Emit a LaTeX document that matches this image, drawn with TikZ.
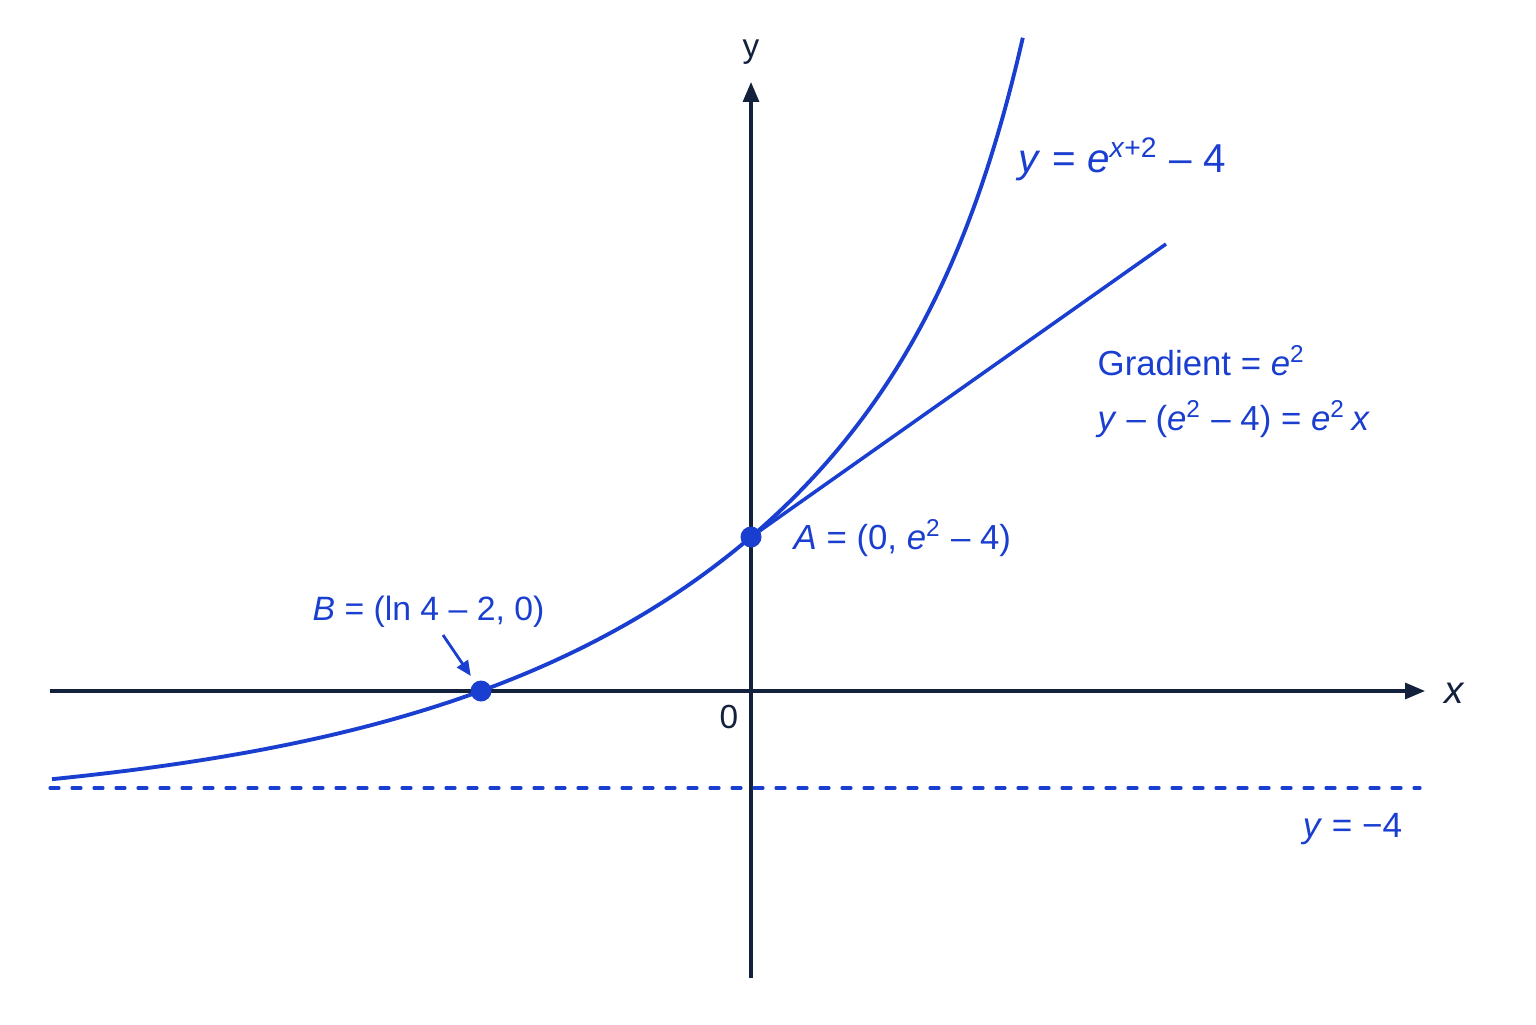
\documentclass[tikz,border=0pt]{standalone}
\usepackage{fontspec}
\setmainfont{Liberation Sans}
\usetikzlibrary{arrows.meta,positioning}
\definecolor{azul}{HTML}{1A3FD0}
\definecolor{eixo}{HTML}{14213D}
\newcommand{\vi}[1]{\textit{#1}}

\begin{document}
\begin{tikzpicture}[>={Triangle[length=0.2cm,width=0.16cm]},
	eixos/.style={draw=eixo, line width=0.9pt},
	curva/.style={draw=azul, line width=1.1pt},
	rotulo/.style={text=azul, inner sep=0pt, font=\fontsize{9.9}{11}\selectfont},
	ponto/.style={circle, fill=azul, inner sep=0pt, minimum size=0.21cm}]
\useasboundingbox[fill=white] (0,0) rectangle (15.36,10.24); %Área do desenho
	%Pontos
\coordinate (O) at (7.51,3.33); %Origem
\coordinate (A) at (7.51,4.87); %Ponto A
\coordinate (B) at (4.81,3.33); %Ponto B
\coordinate (xmin) at (0.5,3.33); \coordinate (xmax) at (14.25,3.33);
\coordinate (ymin) at (7.51,0.46); \coordinate (ymax) at (7.51,9.42);
	%Eixos
\draw[eixos,->] (xmin) -- (xmax); %Eixo x
\draw[eixos,->] (ymin) -- (ymax); %Eixo y
\node[text=eixo, inner sep=0pt, font=\fontsize{11}{13}\selectfont, anchor=base] (xlab) at (14.55,3.21) {\vi{x}};
\node[text=eixo, inner sep=0pt, font=\fontsize{9.5}{11}\selectfont, anchor=base] (ylab) at (7.51,9.66) {y};
\node[text=eixo, inner sep=0pt, font=\fontsize{9.5}{11}\selectfont, anchor=base] (zero) at (7.29,2.96) {0};
	%Assíntota
\coordinate (amin) at (0.5,2.36); \coordinate (amax) at (14.2,2.36);
\draw[azul, line width=0.9pt, line cap=round, dash pattern=on 0.09cm off 0.13cm] (amin) -- (amax);
\node[rotulo, font=\fontsize{10}{12}\selectfont, anchor=base east] (assint) at (14.03,1.87) {\vi{y} = −4};
	%Curva e tangente
\draw[curva, domain=-6.99:2.72, samples=150, smooth, variable=\x] plot ({7.51+\x},{2.112+2.738*exp(0.3*\x)+0.02019*exp(1.6*\x)});
\coordinate (T) at (11.66,7.80); %Fim da tangente
\draw[curva, line width=1pt] (A) -- (T);
\node[ponto] (pA) at (A) {};
\node[ponto] (pB) at (B) {};
	%Rótulos
\node[rotulo, font=\fontsize{11.5}{13}\selectfont, anchor=base west] (eq) at (10.18,8.51) {\vi{y} = \vi{e}\textsuperscript{\vi{x}+2} – 4};
\node[rotulo, anchor=base west] (Alab) at (7.93,4.75) {\vi{A} = (0, \vi{e}\textsuperscript{2} – 4)};
\node[rotulo, font=\fontsize{9.6}{11}\selectfont, anchor=base west] (Blab) at (3.12,4.04) {\vi{B} = (ln 4 – 2, 0)};
\node[rotulo, anchor=base west] (grad) at (10.97,6.49) {Gradient = \vi{e}\textsuperscript{2}};
\node[rotulo, anchor=base west] (tang) at (10.97,5.94) {\vi{y} – (\vi{e}\textsuperscript{2} – 4) = \vi{e}\textsuperscript{2}\,\vi{x}};
	%Seta para B
\coordinate (setaB) at (4.43,3.89);
\draw[azul, line width=0.8pt, -{Triangle[length=0.15cm,width=0.13cm]}, shorten >=0.07cm] (setaB) -- (pB);
\end{tikzpicture}
\end{document}
